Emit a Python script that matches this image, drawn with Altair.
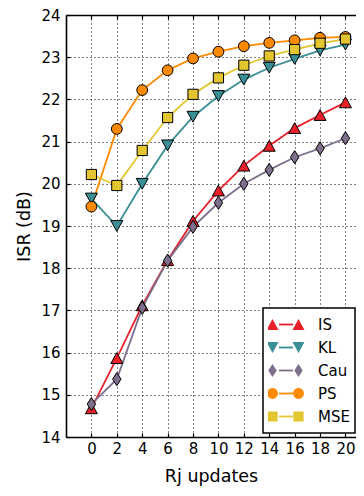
import altair as alt
import pandas as pd

x_vals = [0, 2, 4, 6, 8, 10, 12, 14, 16, 18, 20]
series_names = ["IS", "KL", "Cau", "PS", "MSE"]
is_vals = [14.68, 15.87, 17.12, 18.19, 19.12, 19.84, 20.43, 20.90, 21.32, 21.63, 21.93]
kl_vals = [19.65, 19.00, 20.00, 20.91, 21.59, 22.08, 22.47, 22.75, 22.96, 23.16, 23.30]
cau_vals = [14.78, 15.37, 17.06, 18.18, 18.98, 19.55, 20.00, 20.33, 20.63, 20.84, 21.08]
ps_vals = [19.46, 21.30, 22.22, 22.69, 22.97, 23.13, 23.26, 23.34, 23.40, 23.46, 23.48]
mse_vals = [20.22, 19.96, 20.79, 21.57, 22.12, 22.51, 22.81, 23.03, 23.18, 23.33, 23.43]
colors = ["#e8202a", "#3a8f96", "#7d6e8c", "#ff8a00", "#e3c52f"]
y_ticks = list(range(14, 25))

all_vals = [is_vals, kl_vals, cau_vals, ps_vals, mse_vals]
rows = []
for name, vals in zip(series_names, all_vals):
    for xv, yv in zip(x_vals, vals):
        rows.append({"x": xv, "value": yv, "series": name})
df = pd.DataFrame(rows)

# ---- marker shapes (unit-square SVG paths) ----
poly = {
    "IS": [(0, -0.9), (1, 0.9), (-1, 0.9)],
    "KL": [(0, 0.9), (1, -0.9), (-1, -0.9)],
    "Cau": [(0, -1.1), (0.7, 0), (0, 1.1), (-0.7, 0)],
    "MSE": [(-0.85, -0.85), (0.85, -0.85), (0.85, 0.85), (-0.85, 0.85)],
}


def shape_path(name, scale=1.0, dx=0.0):
    if name == "PS":
        r = 0.9 * scale
        return (f"M{dx - r:.4f},0A{r:.4f},{r:.4f} 0 1,0 {dx + r:.4f},0"
                f"A{r:.4f},{r:.4f} 0 1,0 {dx - r:.4f},0Z")
    pts = poly[name]
    s = "M" + "L".join(f"{dx + px * scale:.4f},{py * scale:.4f}" for px, py in pts) + "Z"
    return s


MARK_SIZE = 144  # unit = 6 px
marker_paths = [shape_path(n) for n in series_names]

U = 17.0  # legend symbol half width in px
LEG_SIZE = (2 * U) ** 2
ms = 6.0 / U
off = 13.0 / U
legend_paths = [shape_path(n, ms, -off) + shape_path(n, ms, off) for n in series_names]

FONT = "DejaVu Sans"
LX, LY = 197, 293

xscale = alt.Scale(domain=[-2, 20.83], nice=False, zero=False)
yscale = alt.Scale(domain=[14, 24], nice=False, zero=False)

main_x_axis = alt.Axis(values=x_vals, title="Rj updates", grid=True, ticks=False,
                       domain=True, labelPadding=4, titlePadding=11, orient="bottom")
main_y_axis = alt.Axis(values=y_ticks, title="ISR (dB)", grid=True, ticks=False,
                       domain=True, labelPadding=6, titlePadding=7, orient="left")
tick_x_bottom = alt.Axis(values=x_vals, title=None, grid=False, labels=False, domain=False,
                         ticks=True, tickSize=4, offset=-4, orient="bottom")
tick_y_left = alt.Axis(values=y_ticks, title=None, grid=False, labels=False, domain=False,
                       ticks=True, tickSize=4, offset=-4, orient="left")
tick_x_top = alt.Axis(values=x_vals, title=None, grid=False, labels=False, domain=False,
                      ticks=True, tickSize=4, offset=-4, orient="top")
top_spine = alt.Axis(values=x_vals, title=None, grid=False, labels=False, domain=True,
                     ticks=False, orient="top")

# connecting line segments of the legend (drawn above the marker legend)
legendA = alt.Legend(orient="none", legendX=LX, legendY=LY, title=None, direction="vertical",
                     symbolType="stroke", symbolSize=196, symbolStrokeWidth=1.8,
                     symbolOffset=10, labelExpr="''", labelOffset=0, labelFontSize=15,
                     labelFont=FONT, padding=5, clipHeight=23, rowPadding=0,
                     cornerRadius=0, zindex=1)
# marker legend with labels and frame
legendB = alt.Legend(orient="none", legendX=LX, legendY=LY, title=None, direction="vertical",
                     symbolSize=LEG_SIZE, symbolStrokeColor="black", symbolStrokeWidth=1,
                     labelOffset=15, labelFontSize=15, labelFont=FONT, labelColor="black",
                     padding=5, strokeColor="black", fillColor="white", clipHeight=23,
                     rowPadding=0, cornerRadius=0, zindex=0)

base = alt.Chart(df)

lines = base.mark_line(strokeWidth=1.8, clip=True).encode(
    x=alt.X("x:Q", scale=xscale, axis=main_x_axis),
    y=alt.Y("value:Q", scale=yscale, axis=main_y_axis),
    color=alt.Color("series:N", scale=alt.Scale(domain=series_names, range=colors),
                    legend=legendA, sort=series_names),
)

points = base.mark_point(filled=True, opacity=1, stroke="black", strokeWidth=1,
                         size=MARK_SIZE, clip=True).encode(
    x=alt.X("x:Q", scale=xscale, axis=tick_x_bottom),
    y=alt.Y("value:Q", scale=yscale, axis=tick_y_left),
    shape=alt.Shape("series:N", scale=alt.Scale(domain=series_names, range=marker_paths),
                    legend=None),
    fill=alt.Fill("series:N", scale=alt.Scale(domain=series_names, range=colors), legend=None),
)

leg = base.transform_filter("false").mark_point(
    filled=True, opacity=1, stroke="black", strokeWidth=1, size=LEG_SIZE).encode(
    x=alt.X("x:Q", scale=xscale, axis=tick_x_top),
    y=alt.Y("value:Q", scale=yscale, axis=None),
    shape=alt.Shape("series:N", scale=alt.Scale(domain=series_names, range=legend_paths),
                    legend=legendB),
    fill=alt.Fill("series:N", scale=alt.Scale(domain=series_names, range=colors),
                  legend=legendB),
)

spine = base.transform_filter("false").mark_point().encode(
    x=alt.X("x:Q", scale=xscale, axis=top_spine),
    y=alt.Y("value:Q", scale=yscale, axis=None),
)

chart = alt.layer(lines, points, leg, spine).resolve_scale(
    shape="independent", fill="independent"
).resolve_axis(x="independent", y="independent").properties(
    width=290, height=422,
    autosize=alt.AutoSizeParams(type="none"),
    padding={"left": 58, "top": 7, "right": 0, "bottom": 51},
).configure_axis(
    labelFont=FONT, titleFont=FONT, labelFontSize=15, titleFontSize=17.5,
    labelColor="black", titleColor="black", titleFontWeight="normal",
    gridColor="black", gridDash=[1, 3], gridOpacity=1, gridWidth=1,
    tickColor="black", tickWidth=1.2, domainColor="black", domainWidth=1.6,
).configure_legend(strokeWidth=1.5).configure_view(strokeWidth=0)

chart.save("out.html", embed_options={"renderer": "svg", "actions": False})
